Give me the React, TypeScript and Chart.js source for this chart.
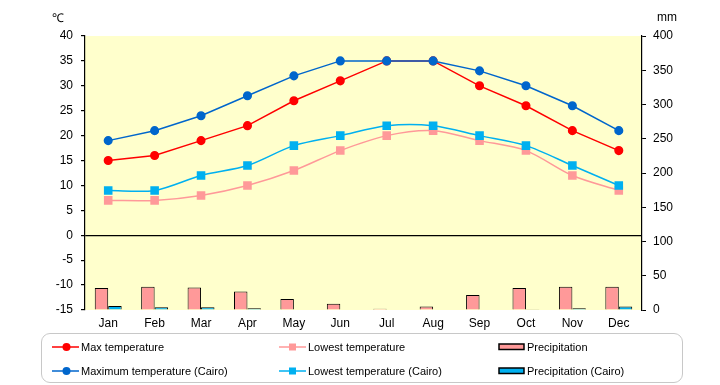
import React, { useEffect, useRef } from "react";
import { Chart, registerables } from "chart.js";
Chart.register(...registerables);

const months = ["Jan", "Feb", "Mar", "Apr", "May", "Jun", "Jul", "Aug", "Sep", "Oct", "Nov", "Dec"];
const maxTemp = [15, 16, 19, 22, 27, 31, 35, 35, 30, 26, 21, 17];
const minTemp = [7, 7, 8, 10, 13, 17, 20, 21, 19, 17, 12, 9];
const cairoMax = [19, 21, 24, 28, 32, 35, 35, 35, 33, 30, 26, 21];
const cairoMin = [9, 9, 12, 14, 18, 20, 22, 22, 20, 18, 14, 10];
const precip = [32, 34, 33, 27, 16, 9, 2, 5, 22, 32, 34, 34];
const cairoPrecip = [6, 4, 4, 2.5, 0, 0, 0, 0, 0, 1, 2.5, 5];

const RED = "#FF0000";
const PINK = "#FF9999";
const DBLUE = "#0066CC";
const LBLUE = "#00B0F0";
const FONT = "'Liberation Sans', Arial, sans-serif";

const bgPlugin = {
  id: "bgPlugin",
  beforeDraw(chart: any) {
    const { ctx, chartArea } = chart;
    if (!chartArea) return;
    ctx.save();
    ctx.fillStyle = "#FFFFCC";
    ctx.fillRect(chartArea.left, chartArea.top, chartArea.right - chartArea.left, chartArea.bottom - chartArea.top);
    ctx.restore();
  },
};

function LegendMarker({ kind, color }: { kind: string; color: string }) {
  if (kind === "circle") {
    return (
      <svg width="27" height="10" style={{ display: "block" }}>
        <line x1="0" y1="5" x2="27" y2="5" stroke={color} strokeWidth="1.5" />
        <circle cx="14.5" cy="5" r="4" fill={color} />
      </svg>
    );
  }
  if (kind === "rect") {
    return (
      <svg width="27" height="10" style={{ display: "block" }}>
        <line x1="0" y1="5" x2="27" y2="5" stroke={color} strokeWidth="1.5" />
        <rect x="10" y="1.5" width="7" height="7" fill={color} />
      </svg>
    );
  }
  return (
    <svg width="27" height="10" style={{ display: "block" }}>
      <rect x="1" y="2" width="25" height="5.5" fill={color} stroke="#000" strokeWidth="1.5" />
    </svg>
  );
}

const legendItems = [
  { label: "Max temperature", kind: "circle", color: RED, x: 52, y: 347 },
  { label: "Lowest temperature", kind: "rect", color: PINK, x: 279, y: 347 },
  { label: "Precipitation", kind: "bar", color: PINK, x: 498, y: 347 },
  { label: "Maximum temperature (Cairo)", kind: "circle", color: DBLUE, x: 52, y: 371 },
  { label: "Lowest temperature (Cairo)", kind: "rect", color: LBLUE, x: 279, y: 371 },
  { label: "Precipitation (Cairo)", kind: "bar", color: LBLUE, x: 498, y: 371 },
];

export default function App() {
  const ref = useRef<HTMLCanvasElement>(null);

  useEffect(() => {
    if (!ref.current) return;
    Chart.defaults.font.family = FONT;
    Chart.defaults.font.size = 12;
    Chart.defaults.color = "#000";
    const barBorder = (c: any) => (c.raw ? 1 : 0);
    const chart = new Chart(ref.current, {
      type: "bar",
      data: {
        labels: months,
        datasets: [
          {
            type: "line",
            label: "Max temperature",
            data: maxTemp,
            borderColor: RED,
            backgroundColor: RED,
            borderWidth: 1.5,
            pointStyle: "circle",
            pointRadius: 3.8,
            tension: 0,
            yAxisID: "y",
            order: 2,
          },
          {
            type: "line",
            label: "Lowest temperature",
            data: minTemp,
            borderColor: PINK,
            backgroundColor: PINK,
            borderWidth: 1.5,
            pointStyle: "rect",
            pointRadius: 5,
            tension: 0.3,
            yAxisID: "y",
            order: 4,
          },
          {
            type: "line",
            label: "Maximum temperature (Cairo)",
            data: cairoMax,
            borderColor: DBLUE,
            backgroundColor: DBLUE,
            borderWidth: 1.5,
            pointStyle: "circle",
            pointRadius: 3.8,
            tension: 0,
            yAxisID: "y",
            order: 1,
          },
          {
            type: "line",
            label: "Lowest temperature (Cairo)",
            data: cairoMin,
            borderColor: LBLUE,
            backgroundColor: LBLUE,
            borderWidth: 1.5,
            pointStyle: "rect",
            pointRadius: 5,
            tension: 0.3,
            yAxisID: "y",
            order: 3,
          },
          {
            type: "bar",
            label: "Precipitation",
            data: precip,
            backgroundColor: PINK,
            borderColor: "#000",
            borderWidth: barBorder,
            borderSkipped: "bottom",
            barPercentage: 1,
            categoryPercentage: 0.58,
            yAxisID: "y1",
            order: 10,
          },
          {
            type: "bar",
            label: "Precipitation (Cairo)",
            data: cairoPrecip,
            backgroundColor: LBLUE,
            borderColor: "#000",
            borderWidth: barBorder,
            borderSkipped: "bottom",
            barPercentage: 1,
            categoryPercentage: 0.58,
            yAxisID: "y1",
            order: 10,
          },
        ] as any,
      },
      options: {
        animation: false,
        responsive: false,
        maintainAspectRatio: false,
        layout: { padding: { top: 36, bottom: 55, left: 0, right: 0 } },
        plugins: { legend: { display: false }, tooltip: { enabled: false } },
        scales: {
          x: {
            grid: { display: false, drawTicks: false },
            border: { display: false },
            ticks: { padding: 6, font: { size: 12, family: FONT }, color: "#000" },
            afterFit: (s: any) => {
              s.height = 20;
            },
          },
          y: {
            position: "left",
            min: -15,
            max: 40,
            ticks: { stepSize: 5, padding: 8, font: { size: 12, family: FONT }, color: "#000" },
            grid: {
              drawOnChartArea: true,
              color: (c: any) => (c.tick && c.tick.value === 0 ? "#000" : "rgba(0,0,0,0)"),
              tickColor: "#000",
              tickLength: 4,
              lineWidth: 1.2,
            },
            border: { display: true, color: "#000", width: 1.2 },
            afterFit: (s: any) => {
              s.width = 85;
            },
          },
          y1: {
            position: "right",
            min: 0,
            max: 400,
            ticks: { stepSize: 50, padding: 7, font: { size: 12, family: FONT }, color: "#000" },
            grid: { drawOnChartArea: false, tickColor: "#000", tickLength: 4 },
            border: { display: true, color: "#000", width: 1.2 },
            afterFit: (s: any) => {
              s.width = 78;
            },
          },
        },
      } as any,
      plugins: [bgPlugin],
    });
    return () => chart.destroy();
  }, []);

  return (
    <div style={{ position: "absolute", left: 0, top: 0, width: 720, height: 385, background: "#fff", fontFamily: FONT }}>
      <canvas ref={ref} width={720} height={385} style={{ position: "absolute", left: 0, top: 0 }} />
      <div style={{ position: "absolute", left: 52, top: 10, fontSize: 12, lineHeight: "16px" }}>℃</div>
      <div style={{ position: "absolute", left: 657, top: 9, fontSize: 12, lineHeight: "16px" }}>mm</div>
      <div
        style={{
          position: "absolute",
          left: 41,
          top: 333,
          width: 642,
          height: 50,
          border: "1.5px solid #C8C8C8",
          borderRadius: 9,
          boxSizing: "border-box",
        }}
      />
      {legendItems.map((it) => (
        <div
          key={it.label}
          style={{
            position: "absolute",
            left: it.x,
            top: it.y - 8,
            height: 16,
            display: "flex",
            alignItems: "center",
            fontSize: 11,
            whiteSpace: "nowrap",
          }}
        >
          <LegendMarker kind={it.kind} color={it.color} />
          <span style={{ marginLeft: 2 }}>{it.label}</span>
        </div>
      ))}
    </div>
  );
}
